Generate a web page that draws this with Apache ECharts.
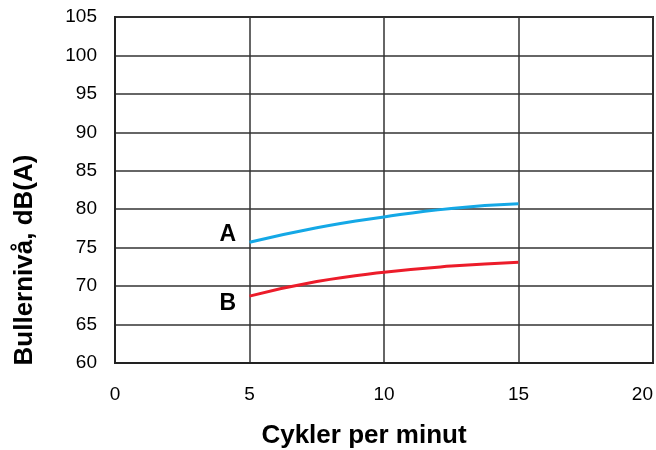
<!DOCTYPE html>
<html>
<head>
<meta charset="utf-8">
<script src="https://cdn.jsdelivr.net/npm/echarts@6/dist/echarts.min.js"></script>
<style>
  html, body { margin: 0; padding: 0; background: #fff; }
  #main { width: 656px; height: 450px; }
</style>
</head>
<body>
<div id="main"></div>
<script>
// cykler per minut
const cycles = [5, 7.5, 10, 12.5, 15];
// bullernivå dB(A)
const seriesA = [75.7, 77.6, 79.0, 80.1, 80.7];
const seriesB = [68.7, 70.6, 71.8, 72.6, 73.1];
const xTicks = [0, 5, 10, 15, 20];
const yTicks = [60, 65, 70, 75, 80, 85, 90, 95, 100, 105];

const font = 'Liberation Sans, Arial, sans-serif';

function toPoints(xs, ys, name, offset) {
  return xs.map((x, i) => {
    const p = { value: [x, ys[i]] };
    if (i === 0) {
      p.label = {
        show: true,
        formatter: name,
        position: 'left',
        distance: 5,
        offset: offset,
        color: '#000',
        fontFamily: font,
        fontWeight: 'bold',
        fontSize: 23
      };
    }
    return p;
  });
}

const chart = echarts.init(document.getElementById('main'));
chart.setOption({
  animation: false,
  grid: {
    left: 115, right: 3, top: 17, bottom: 87,
    outerBoundsMode: 'none',
    containLabel: false,
    show: true, borderColor: '#222', borderWidth: 2
  },
  xAxis: {
    type: 'value',
    min: xTicks[0], max: xTicks[xTicks.length - 1], interval: 5,
    name: 'Cykler per minut',
    nameLocation: 'middle',
    nameGap: 60,
    nameTextStyle: { color: '#000', fontFamily: font, fontWeight: 'bold', fontSize: 26, padding: [0, 40, 0, 0] },
    axisLine: { show: true, lineStyle: { color: '#222', width: 2 } },
    axisTick: { show: false },
    axisLabel: { color: '#000', fontFamily: font, fontSize: 19, margin: 22, alignMaxLabel: 'right' },
    splitLine: { show: true, lineStyle: { color: '#333', width: 1.5 } }
  },
  yAxis: {
    type: 'value',
    min: yTicks[0], max: yTicks[yTicks.length - 1], interval: 5,
    name: 'Bullernivå, dB(A)',
    nameLocation: 'middle',
    nameGap: 77,
    nameTextStyle: { color: '#000', fontFamily: font, fontWeight: 'bold', fontSize: 26, padding: [0, 140, 0, 0] },
    axisLine: { show: true, lineStyle: { color: '#222', width: 2 } },
    axisTick: { show: false },
    axisLabel: { color: '#000', fontFamily: font, fontSize: 19, margin: 18 },
    splitLine: { show: true, lineStyle: { color: '#333', width: 1.5 } }
  },
  series: [
    {
      name: 'A',
      type: 'line',
      smooth: true,
      symbol: 'circle',
      symbolSize: 1,
      showSymbol: true,
      itemStyle: { color: 'rgba(0,0,0,0)' },
      lineStyle: { color: '#14a8e6', width: 3 },
      data: toPoints(cycles, seriesA, 'A', [-8, -8])
    },
    {
      name: 'B',
      type: 'line',
      smooth: true,
      symbol: 'circle',
      symbolSize: 1,
      showSymbol: true,
      itemStyle: { color: 'rgba(0,0,0,0)' },
      lineStyle: { color: '#ec1c2a', width: 3 },
      data: toPoints(cycles, seriesB, 'B', [-8, 8])
    }
  ]
});
</script>
</body>
</html>
